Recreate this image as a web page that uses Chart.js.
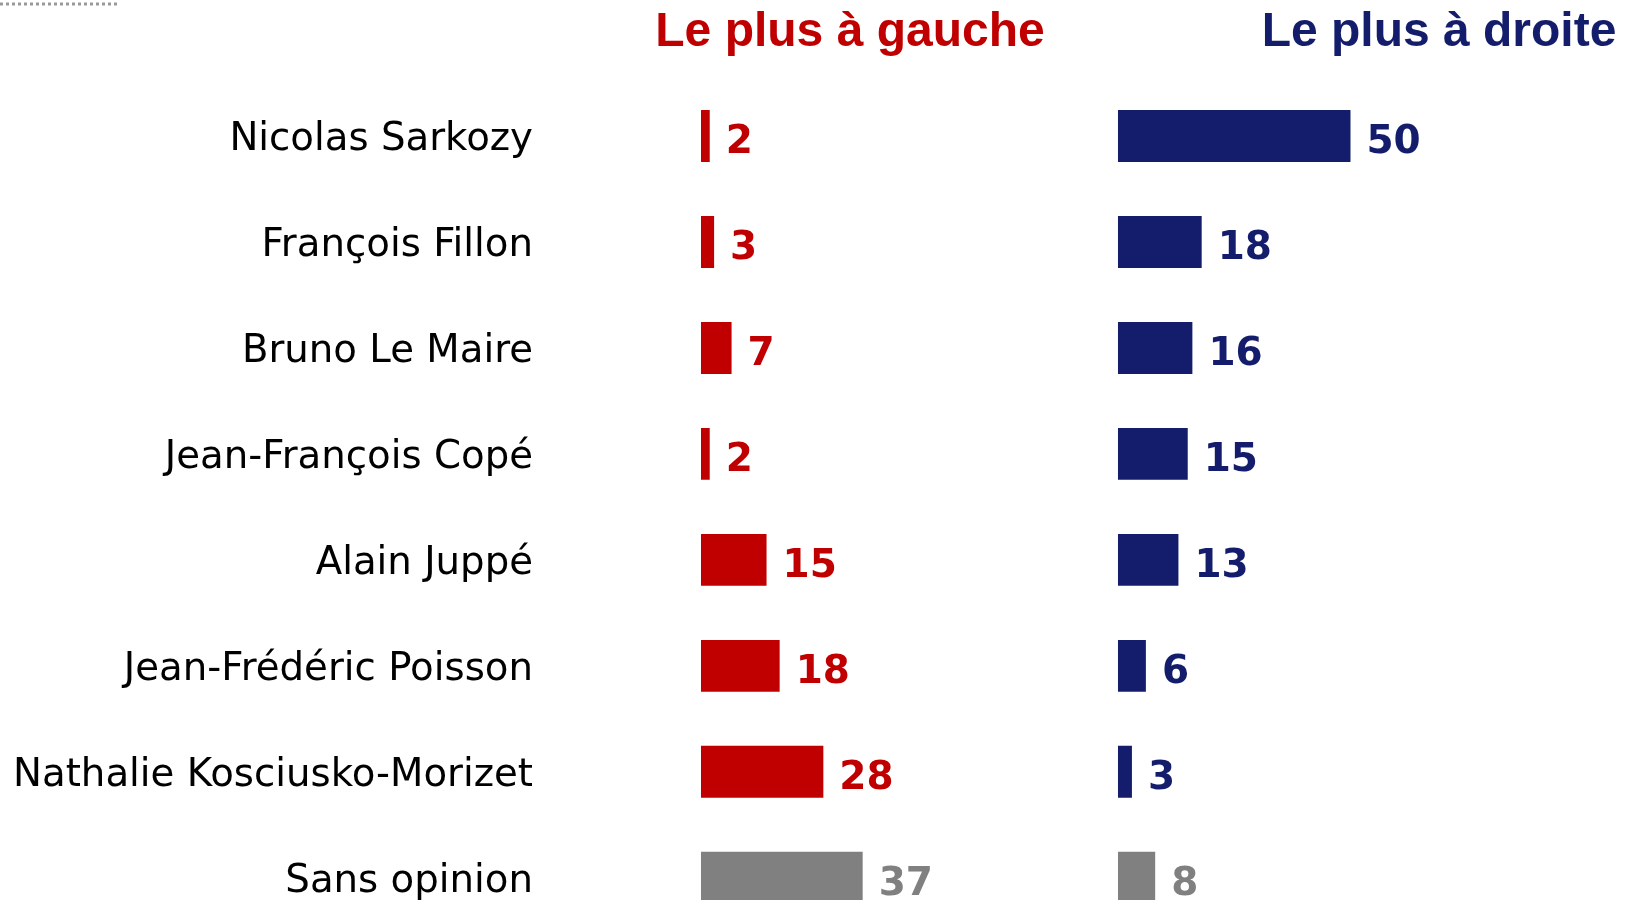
<!DOCTYPE html>
<html>
<head>
<meta charset="utf-8">
<script src="https://cdn.jsdelivr.net/npm/chart.js@4"></script>
<style>
  html, body { margin: 0; padding: 0; background: #fff; overflow: hidden; }
  #wrap { width: 1636px; height: 900px; overflow: hidden; }
</style>
</head>
<body>
<div id="wrap"><canvas id="barChart" width="1636" height="954"></canvas></div>
<script>
const candidates = ['Nicolas Sarkozy', 'François Fillon', 'Bruno Le Maire', 'Jean-François Copé',
    'Alain Juppé', 'Jean-Frédéric Poisson', 'Nathalie Kosciusko-Morizet', 'Sans opinion'];
const plusAGauche = [2, 3, 7, 2, 15, 18, 28, 37];
const plusADroite = [50, 18, 16, 15, 13, 6, 3, 8];
const titles = ['Le plus à gauche', 'Le plus à droite'];

const RED = '#C00000';
const NAVY = '#141D6B';
const GREY = '#808080';

function colorsFor(main) {
    return candidates.map((c, i) => i === candidates.length - 1 ? GREY : main);
}

// values written to the right of each bar
const valueLabels = {
    id: 'valueLabels',
    afterDatasetsDraw(chart) {
        const ctx = chart.ctx;
        ctx.save();
        ctx.font = 'bold 39px "DejaVu Sans"';
        ctx.textAlign = 'left';
        ctx.textBaseline = 'middle';
        chart.data.datasets.forEach((ds, di) => {
            chart.getDatasetMeta(di).data.forEach((bar, i) => {
                ctx.fillStyle = ds.backgroundColor[i];
                ctx.fillText(ds.data[i], bar.x + 16, bar.y + 7);
            });
        });
        ctx.restore();
    }
};

// column headers + the little dotted rule top-left
const headers = {
    id: 'headers',
    beforeDraw(chart) {
        const ctx = chart.ctx;
        ctx.save();
        ctx.strokeStyle = '#999999';
        ctx.lineWidth = 3;
        ctx.setLineDash([3, 3]);
        ctx.beginPath();
        ctx.moveTo(0, 4);
        ctx.lineTo(118, 4);
        ctx.stroke();
        ctx.setLineDash([]);

        ctx.font = 'bold 48px "Liberation Sans"';
        ctx.textAlign = 'center';
        ctx.textBaseline = 'alphabetic';
        ctx.fillStyle = RED;
        ctx.fillText(titles[0], 850, 46);
        ctx.fillStyle = NAVY;
        ctx.fillText(titles[1], 1439, 46);
        ctx.restore();
    }
};

const data = {
    labels: candidates,
    datasets: [{
        label: titles[0],
        data: plusAGauche,
        backgroundColor: colorsFor(RED),
        xAxisID: 'xL',
        grouped: false,
        barPercentage: 0.49,
        categoryPercentage: 1,
    }, {
        label: titles[1],
        data: plusADroite,
        backgroundColor: colorsFor(NAVY),
        xAxisID: 'xR',
        grouped: false,
        barPercentage: 0.49,
        categoryPercentage: 1,
    }],
};

const config = {
    type: 'bar',
    data: data,
    options: {
        indexAxis: 'y',
        responsive: false,
        animation: false,
        devicePixelRatio: 1,
        layout: { padding: { left: 0, right: 0, top: 83, bottom: 23 } },
        plugins: {
            legend: { display: false },
            tooltip: { enabled: false },
        },
        scales: {
            y: {
                position: 'left',
                grid: { display: false, drawTicks: false },
                border: { display: false },
                afterFit(scale) { scale.width = 533; },
                ticks: {
                    padding: 0,
                    labelOffset: 4,
                    crossAlign: 'near',
                    color: '#000000',
                    font: { family: '"DejaVu Sans"', size: 38.7 },
                },
            },
            xL: {
                display: false,
                min: -38.44,
                max: 213.96,
            },
            xR: {
                display: false,
                min: -125.8,
                max: 111.4,
            },
        },
    },
    plugins: [headers, valueLabels],
};

const myChart = new Chart(document.getElementById('barChart').getContext('2d'), config);
</script>
</body>
</html>
